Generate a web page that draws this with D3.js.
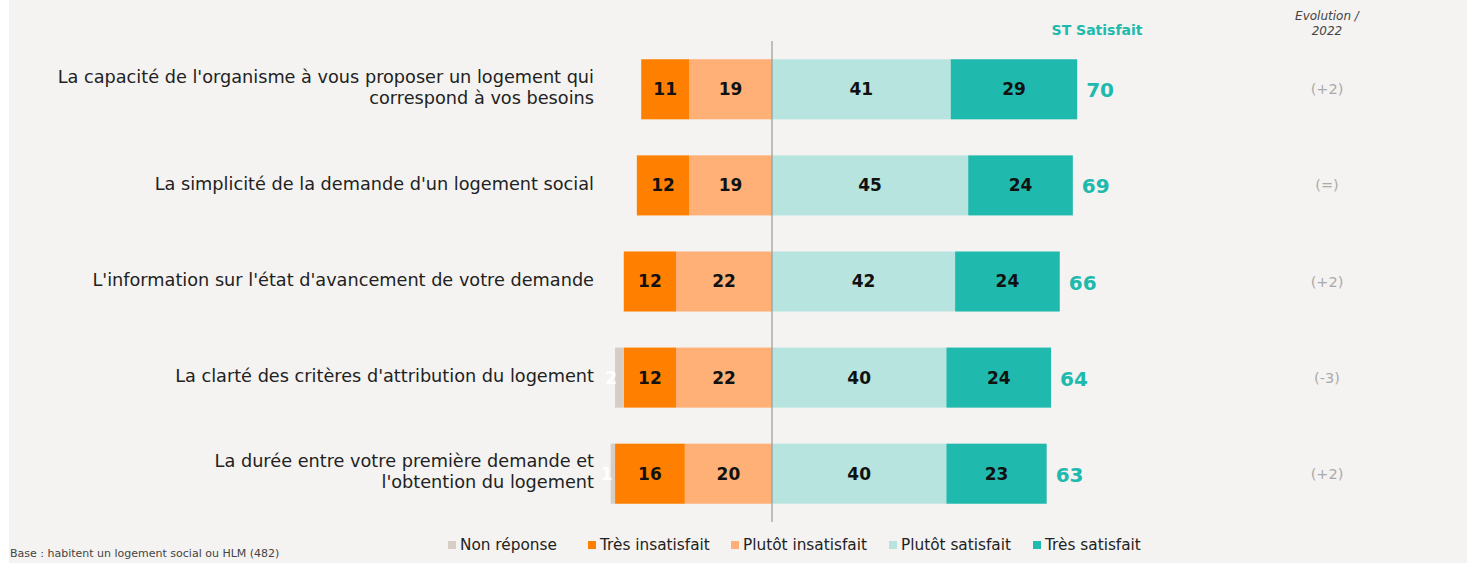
<!DOCTYPE html>
<html>
<head>
<meta charset="utf-8">
<script src="https://cdn.jsdelivr.net/npm/d3@7"></script>
<style>
  body { margin: 0; background: #ffffff; }
  svg { display: block; }
  text { font-family: 'DejaVu Sans', sans-serif; }
</style>
</head>
<body>
<svg width="1467" height="563"></svg>
<script>
// categories (each label split in lines)
var categories = [
  ["La capacité de l'organisme à vous proposer un logement qui", 'correspond à vos besoins'],
  ["La simplicité de la demande d'un logement social"],
  ["L'information sur l'état d'avancement de votre demande"],
  ["La clarté des critères d'attribution du logement"],
  ['La durée entre votre première demande et', "l'obtention du logement"]
]
var seriesNames = ['Non réponse', 'Très insatisfait', 'Plutôt insatisfait', 'Plutôt satisfait', 'Très satisfait']
var nonReponse = [0, 0, 0, 2, 1]
var tresInsatisfait = [11, 12, 12, 12, 16]
var plutotInsatisfait = [19, 19, 22, 22, 20]
var plutotSatisfait = [41, 45, 42, 40, 40]
var tresSatisfait = [29, 24, 24, 24, 23]
var stSatisfait = [70, 69, 66, 64, 63]
var evolution = ['(+2)', '(=)', '(+2)', '(-3)', '(+2)']
var colors = ['#d5cdc6', '#ff7f00', '#ffb076', '#b8e4df', '#20b9ad']

var svg = d3.select('svg')
var W = 1467, H = 563

svg.append('rect').attr('x', 9).attr('y', 0).attr('width', W - 9).attr('height', H).attr('fill', '#f4f3f1')

var x = d3.scaleLinear().domain([-40, 80]).range([772 - 40 * 4.36, 772 + 80 * 4.36])
var y = d3.scaleBand().domain(d3.range(categories.length)).range([41, 522]).paddingInner(0.375).paddingOuter(0.19)

var rows = categories.map(function (c, i) {
  var neg = [
    { k: 2, v: plutotInsatisfait[i] },
    { k: 1, v: tresInsatisfait[i] },
    { k: 0, v: nonReponse[i] }
  ]
  var pos = [
    { k: 3, v: plutotSatisfait[i] },
    { k: 4, v: tresSatisfait[i] }
  ]
  var segs = []
  var acc = 0
  neg.forEach(function (s) { segs.push({ k: s.k, v: s.v, x0: -(acc + s.v), x1: -acc, i: i }); acc += s.v })
  acc = 0
  pos.forEach(function (s) { segs.push({ k: s.k, v: s.v, x0: acc, x1: acc + s.v, i: i }); acc += s.v })
  return segs
})

var g = svg.append('g')
var row = g.selectAll('g.row').data(rows).enter().append('g').attr('class', 'row')

row.selectAll('rect').data(function (d) { return d.filter(function (s) { return s.v > 0 }) })
  .enter().append('rect')
  .attr('x', function (d) { return x(d.x0) })
  .attr('width', function (d) { return x(d.x1) - x(d.x0) })
  .attr('y', function (d) { return y(d.i) })
  .attr('height', y.bandwidth())
  .attr('fill', function (d) { return colors[d.k] })

row.selectAll('text.val').data(function (d) { return d.filter(function (s) { return s.v > 0 }) })
  .enter().append('text')
  .attr('class', 'val')
  .attr('x', function (d) { return d.k === 0 ? x(d.x0) + 2 : (x(d.x0) + x(d.x1)) / 2 })
  .attr('y', function (d) { return y(d.i) + y.bandwidth() / 2 })
  .attr('dy', '0.35em')
  .attr('text-anchor', function (d) { return d.k === 0 ? 'end' : 'middle' })
  .attr('fill', function (d) { return d.k === 0 ? '#ffffff' : '#111111' })
  .style('font-size', '17px')
  .style('font-weight', 'bold')
  .text(function (d) { return d.v })

// category labels
g.selectAll('text.cat').data(categories).enter().append('text')
  .attr('class', 'cat')
  .attr('text-anchor', 'end')
  .attr('fill', '#222222')
  .style('font-size', '17.7px')
  .each(function (lines, i) {
    var t = d3.select(this)
    var cy = y(i) + y.bandwidth() / 2 - 2
    lines.forEach(function (l, j) {
      t.append('tspan')
        .attr('x', 594)
        .attr('y', cy + (j - (lines.length - 1) / 2) * 21)
        .attr('dy', '0.35em')
        .text(l)
    })
  })

// ST satisfait values
g.selectAll('text.st').data(stSatisfait).enter().append('text')
  .attr('class', 'st')
  .attr('x', function (d, i) { return x(plutotSatisfait[i] + tresSatisfait[i]) + 9 })
  .attr('y', function (d, i) { return y(i) + y.bandwidth() / 2 + 1 })
  .attr('dy', '0.35em')
  .attr('fill', '#20b9ad')
  .style('font-size', '20px')
  .style('font-weight', 'bold')
  .text(function (d) { return d })

// evolution
g.selectAll('text.evo').data(evolution).enter().append('text')
  .attr('class', 'evo')
  .attr('x', 1327)
  .attr('y', function (d, i) { return y(i) + y.bandwidth() / 2 })
  .attr('dy', '0.35em')
  .attr('text-anchor', 'middle')
  .attr('fill', '#aaaaaa')
  .style('font-size', '14.5px')
  .text(function (d) { return d })

// center line
svg.append('line')
  .attr('x1', x(0)).attr('x2', x(0))
  .attr('y1', 41).attr('y2', 522)
  .attr('stroke', '#9a9a9a').attr('stroke-width', 1.2)

// headers
svg.append('text')
  .attr('x', 1097).attr('y', 30).attr('dy', '0.35em')
  .attr('text-anchor', 'middle')
  .attr('fill', '#20b9ad')
  .style('font-size', '14px').style('font-weight', 'bold')
  .text('ST Satisfait')

var evoHead = svg.append('text')
  .attr('text-anchor', 'middle')
  .attr('fill', '#444444')
  .style('font-size', '12px').style('font-style', 'italic')
evoHead.append('tspan').attr('x', 1327).attr('y', 16).attr('dy', '0.35em').text('Evolution /')
evoHead.append('tspan').attr('x', 1327).attr('y', 31).attr('dy', '0.35em').text('2022')

// base note
svg.append('text')
  .attr('x', 10).attr('y', 553).attr('dy', '0.35em')
  .attr('fill', '#444444')
  .style('font-size', '11px')
  .text('Base : habitent un logement social ou HLM (482)')

// legend
var legendX = [448, 588, 731, 889, 1033]
var leg = svg.selectAll('g.leg').data(seriesNames).enter().append('g')
  .attr('class', 'leg')
  .attr('transform', function (d, i) { return 'translate(' + legendX[i] + ',545)' })
leg.append('rect').attr('x', 0).attr('y', -4).attr('width', 8).attr('height', 8)
  .attr('fill', function (d, i) { return colors[i] })
leg.append('text').attr('x', 12).attr('y', 0).attr('dy', '0.35em')
  .attr('fill', '#222222')
  .style('font-size', '15.3px')
  .text(function (d) { return d })
</script>
</body>
</html>
